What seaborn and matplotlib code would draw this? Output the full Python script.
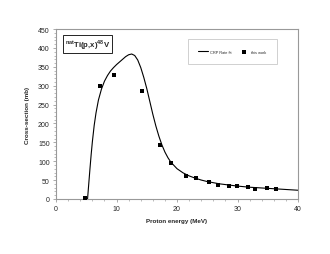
import seaborn as sns
import numpy as np
import pandas as pd
from matplotlib import pyplot as plt
from matplotlib.ticker import MultipleLocator

sns.set_theme(style="white")
plt.rcParams['font.family'] = ['Liberation Sans', 'DejaVu Sans']

# CRP rate fit curve
fit_energy = [5.2, 5.4, 5.6, 5.8, 6.0, 6.3, 6.6, 7.0, 7.5, 8.0, 8.5, 9.0, 9.5,
              10.0, 10.5, 11.0, 11.5, 12.0, 12.5, 13.0, 13.5, 14.0, 14.5, 15.0,
              15.5, 16.0, 16.5, 17.0, 17.5, 18.0, 18.5, 19.0, 20.0, 21.0, 22.0,
              23.0, 24.0, 25.0, 26.0, 27.0, 28.0, 30.0, 32.0, 35.0, 38.0, 40.0]
fit_xs = [0, 40, 80, 118, 152, 195, 228, 262, 291, 312, 327, 339, 348,
          356, 363, 370, 377, 382, 384, 380, 368, 348, 322, 292,
          258, 224, 193, 166, 143, 124, 109, 97, 80, 69, 61,
          55, 50, 46, 43, 40, 38, 34, 31, 28, 25, 23]

# measured points ("this work")
exp_energy = [4.7, 7.3, 9.5, 14.2, 17.2, 19.0, 21.5, 23.1, 25.3, 26.7, 28.6,
              29.9, 31.7, 32.9, 34.9, 36.3]
exp_xs = [2, 300, 329, 287, 144, 95, 60, 55, 44, 38, 35, 34, 31, 26, 28, 27]

fit = pd.DataFrame({"energy": fit_energy, "xs": fit_xs})
exp = pd.DataFrame({"energy": exp_energy, "xs": exp_xs})

fig = plt.figure(figsize=(3.3, 2.55), dpi=100)
ax = fig.add_axes([0.170, 0.216, 0.733, 0.666])

sns.lineplot(data=fit, x="energy", y="xs", ax=ax, color="black", lw=0.8,
             label="CRP Rate fit")
sns.scatterplot(data=exp, x="energy", y="xs", ax=ax, color="black", marker="s",
                s=5.5, edgecolor="black", linewidth=0, label="this work", zorder=3)

ax.set_xlim(0, 40)
ax.set_ylim(0, 450)
ax.xaxis.set_major_locator(MultipleLocator(10))
ax.xaxis.set_minor_locator(MultipleLocator(2))
ax.yaxis.set_major_locator(MultipleLocator(50))
ax.yaxis.set_minor_locator(MultipleLocator(10))
ax.tick_params(which="major", length=2.5, width=0.5, labelsize=5, pad=2,
               color="#888888", direction="out", bottom=True, left=True)
ax.tick_params(which="minor", length=1.5, width=0.4, color="#888888",
               direction="out", bottom=True, left=True)
for sp in ax.spines.values():
    sp.set_color("#999999")
    sp.set_linewidth(0.8)

ax.set_xlabel("Proton energy (MeV)", fontsize=4.5, fontweight="bold", labelpad=4)
ax.set_ylabel("Cross-section (mb)", fontsize=4.5, fontweight="bold", labelpad=6)

ax.text(0.035, 0.955, r"$^{\mathregular{nat}}$Ti(p,x)$^{\mathregular{48}}$V",
        transform=ax.transAxes, fontsize=5.6, fontweight="bold", va="top",
        ha="left",
        bbox=dict(boxstyle="square,pad=0.25", fc="white", ec="black", lw=0.6))

leg = ax.legend(loc="upper right", bbox_to_anchor=(0.915, 0.945), ncol=2,
                fontsize=2.8, frameon=True, handlelength=2.4, columnspacing=2.0,
                borderpad=2.4, markerscale=1.3, handletextpad=0.6)
leg.get_frame().set_edgecolor("#bbbbbb")
leg.get_frame().set_linewidth(0.6)
leg.get_frame().set_boxstyle("square")

fig.savefig("out.png", dpi=100)
